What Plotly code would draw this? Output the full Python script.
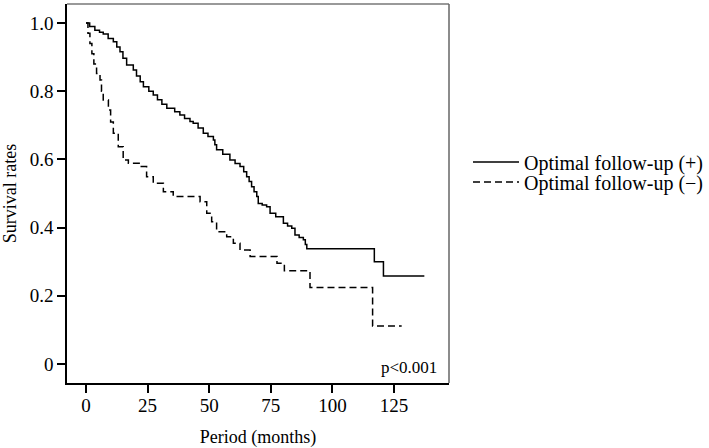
import plotly.graph_objects as go

# Kaplan-Meier style step data (time in months, survival rate)
pos_time = [0, 1.5, 3.6, 5.5, 7.0, 9.0, 11.1, 12.5, 13.8, 15.0, 16.5, 19.2, 20.5, 22.0, 23.3,
            25.5, 27.3, 29.0, 30.8, 32.8, 36.0, 38.1, 40.0, 42.2, 43.5, 45.5, 47.6, 49.5,
            51.7, 52.3, 53.0, 55.5, 58.4, 60.5, 62.5, 64.0, 65.2, 66.2, 67.2, 68.2, 69.3,
            69.9, 71.5, 73.3, 74.7, 77.0, 80.1, 81.8, 83.5, 84.8, 86.5, 88.2, 89.0, 89.6,
            117.0, 120.7, 137.3]
pos_surv = [1.0, 0.99, 0.979, 0.973, 0.968, 0.955, 0.945, 0.93, 0.916, 0.897, 0.877, 0.862, 0.845, 0.828, 0.813,
            0.80, 0.789, 0.775, 0.762, 0.750, 0.740, 0.730, 0.720, 0.711, 0.706, 0.692, 0.677, 0.667,
            0.657, 0.643, 0.628, 0.615, 0.598, 0.588, 0.579, 0.564, 0.549, 0.535, 0.520, 0.505, 0.491,
            0.471, 0.466, 0.461, 0.442, 0.432, 0.413, 0.405, 0.398, 0.378, 0.371, 0.364, 0.35, 0.338,
            0.300, 0.258, 0.258]

neg_time = [0, 0.8, 1.6, 2.4, 3.2, 4.3, 5.7, 6.3, 7.0, 9.1, 10.0, 11.1, 13.1, 15.1, 17.2,
            21.9, 24.6, 27.3, 31.4, 35.4, 46.3, 49.0, 51.0, 53.0, 57.1, 59.8, 62.5, 66.6,
            77.5, 80.5, 90.9, 116.3, 128.1]
neg_surv = [1.0, 0.97, 0.94, 0.91, 0.88, 0.852, 0.833, 0.80, 0.774, 0.745, 0.71, 0.677, 0.637, 0.598, 0.589,
            0.579, 0.549, 0.530, 0.505, 0.491, 0.476, 0.442, 0.417, 0.388, 0.373, 0.354, 0.334, 0.315,
            0.295, 0.273, 0.224, 0.111, 0.111]

x_ticks = [0, 25, 50, 75, 100, 125]
y_ticks = [0, 0.2, 0.4, 0.6, 0.8, 1.0]
y_tick_labels = ["0", "0.2", "0.4", "0.6", "0.8", "1.0"]

FONT = "Liberation Serif, Times New Roman, serif"

fig = go.Figure()
fig.add_trace(go.Scatter(x=pos_time, y=pos_surv, mode="lines", line_shape="hv",
                         line=dict(color="black", width=1.5),
                         name="Optimal follow-up (+)", legend="legend"))
fig.add_trace(go.Scatter(x=neg_time, y=neg_surv, mode="lines", line_shape="hv",
                         line=dict(color="black", width=1.5, dash="7px,4px"),
                         name="Optimal follow-up (\u2212)", legend="legend2"))

leg_common = dict(xref="container", yref="container", xanchor="left", yanchor="middle",
                  font=dict(size=20, family=FONT), bgcolor="rgba(0,0,0,0)", itemwidth=46)

fig.update_layout(
    width=709, height=448,
    margin=dict(l=67, r=260, t=4, b=65),
    paper_bgcolor="white", plot_bgcolor="white",
    font=dict(family=FONT, size=19, color="black"),
    showlegend=True,
    legend=dict(x=468/709, y=1 - 162/448, **leg_common),
    legend2=dict(x=468/709, y=1 - 182/448, **leg_common),
    xaxis=dict(range=[-7.7, 147.3], tickvals=x_ticks, ticks="outside", ticklen=8,
               tickwidth=1.5, tickcolor="black", showline=True, linecolor="black",
               linewidth=1.5, showgrid=False, zeroline=False, ticklabelstandoff=-4,
               automargin=False, tickfont=dict(size=19, family=FONT),
               title=dict(text="Period (months)", font=dict(size=18, family=FONT), standoff=16)),
    yaxis=dict(range=[-0.056, 1.056], tickvals=y_ticks, ticktext=y_tick_labels,
               ticks="outside", ticklen=8, tickwidth=1.5, tickcolor="black",
               showline=True, linecolor="black", linewidth=1.5, showgrid=False,
               zeroline=False, automargin=False, tickfont=dict(size=19, family=FONT),
               title=dict(text="Survival rates", font=dict(size=18, family=FONT), standoff=8)),
    shapes=[
        dict(type="line", xref="paper", yref="paper", x0=0, x1=1, y0=1, y1=1,
             line=dict(color="#777777", width=1.5)),
        dict(type="line", xref="paper", yref="paper", x0=1, x1=1, y0=0, y1=1,
             line=dict(color="#666666", width=1.5)),
    ],
    annotations=[
        dict(text="p<0.001", xref="paper", yref="paper", x=0.973, y=0.04,
             xanchor="right", yanchor="middle", showarrow=False,
             font=dict(size=17, family=FONT)),
    ],
)

fig.write_html("out.html", config={"displayModeBar": False},
               post_script="document.body.style.margin='0';document.body.style.padding='0';")
